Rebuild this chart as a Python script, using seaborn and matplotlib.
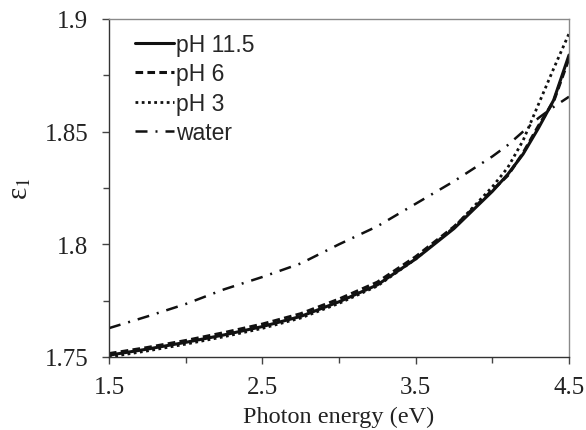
import numpy as np
import pandas as pd
import matplotlib
matplotlib.use("Agg")
import matplotlib.pyplot as plt
from matplotlib.ticker import MultipleLocator
import seaborn as sns

# ================= DATOS =================
energia = [1.5, 1.75, 2.0, 2.25, 2.5, 2.75, 3.0, 3.25, 3.5, 3.75, 4.0, 4.1, 4.2, 4.3, 4.4, 4.5]

eps_ph115 = [1.7508, 1.7535, 1.7565, 1.7598, 1.7635, 1.7680, 1.7745, 1.7820,
             1.7935, 1.8070, 1.8235, 1.8310, 1.8400, 1.8515, 1.8640, 1.8840]
eps_ph6 = [1.7515, 1.7542, 1.7573, 1.7608, 1.7646, 1.7692, 1.7757, 1.7832,
           1.7945, 1.8078, 1.8240, 1.8305, 1.8405, 1.8525, 1.8635, 1.8825]
eps_ph3 = [1.7500, 1.7527, 1.7557, 1.7590, 1.7627, 1.7673, 1.7738, 1.7815,
           1.7935, 1.8075, 1.8255, 1.8340, 1.8460, 1.8620, 1.8780, 1.8935]
eps_agua = [1.7628, 1.7680, 1.7735, 1.7800, 1.7855, 1.7915, 1.8000, 1.8080,
            1.8180, 1.8280, 1.8390, 1.8440, 1.8500, 1.8560, 1.8610, 1.8655]

nombres = ['pH 11.5', 'pH 6', 'pH 3', 'water']
series = [eps_ph115, eps_ph6, eps_ph3, eps_agua]

# estilos de línea (negro, distintos trazos)
estilos = {
    'pH 11.5': dict(linestyle='-', lw=2.2),
    'pH 6': dict(linestyle=(0, (2.5, 1.4)), lw=2.2),
    'pH 3': dict(linestyle=(0, (1, 1.25)), lw=2.0),
    'water': dict(linestyle=(0, (4.8, 3.2, 0.8, 3.2)), lw=1.8),
}

# ================= GRÁFICO =================
sns.set_style("ticks")
plt.rcParams['mathtext.fontset'] = 'stix'

fig = plt.figure(figsize=(5.86, 4.31), dpi=100)
ax = fig.add_axes([0.186, 0.1694, 0.785, 0.7842])

for nombre, valores in zip(nombres, series):
    sns.lineplot(x=energia, y=valores, ax=ax, color='#111111',
                 label=nombre, **estilos[nombre])

ax.set_xlim(1.5, 4.5)
ax.set_ylim(1.75, 1.9)
ax.xaxis.set_minor_locator(MultipleLocator(0.5))
ax.yaxis.set_minor_locator(MultipleLocator(0.025))
ax.set_xticks([1.5, 2.5, 3.5, 4.5])
ax.set_xticklabels(['1.5', '2.5', '3.5', '4.5'])
ax.set_yticks([1.75, 1.8, 1.85, 1.9])
ax.set_yticklabels(['1.75', '1.8', '1.85', '1.9'])

serif = ['Liberation Serif', 'DejaVu Serif']
for lbl in ax.get_xticklabels() + ax.get_yticklabels():
    lbl.set_family(serif)
    lbl.set_fontsize(18)
    lbl.set_color('#222222')

ax.tick_params(axis='both', which='major', direction='out', length=5,
               width=1, color='#444444')
ax.tick_params(axis='both', which='minor', direction='out', length=4,
               width=1, color='#444444')
ax.tick_params(axis='x', which='major', pad=9)
ax.tick_params(axis='y', which='major', pad=10)

for lado in ['left', 'bottom']:
    ax.spines[lado].set_color('#333333')
    ax.spines[lado].set_linewidth(1.0)
for lado in ['top', 'right']:
    ax.spines[lado].set_visible(True)
    ax.spines[lado].set_color('#8a8a8a')
    ax.spines[lado].set_linewidth(1.0)

ax.set_xlabel('Photon energy (eV)', family=serif, fontsize=17.5,
              color='#222222', labelpad=5)
ax.set_ylabel(r'ε$_1$', family=serif, fontsize=21, color='#222222',
              labelpad=8)

ax.legend(loc='upper left', bbox_to_anchor=(0.0565, 0.958), frameon=False,
          prop={'family': ['Liberation Sans', 'DejaVu Sans'], 'size': 16.5},
          handlelength=1.7, handletextpad=0.1, labelspacing=0.27,
          borderpad=0, borderaxespad=0)

ax.grid(False)
fig.savefig('out.png', dpi=100)
